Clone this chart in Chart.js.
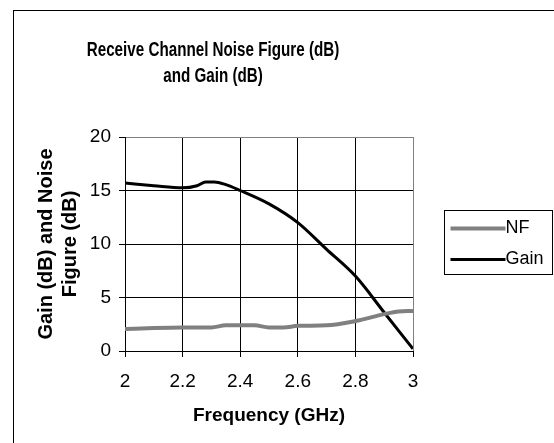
<!DOCTYPE html>
<html>
<head>
<meta charset="utf-8">
<script src="https://cdn.jsdelivr.net/npm/chart.js@4"></script>
<style>
  html, body { margin: 0; padding: 0; background: #fff; }
  #wrap { width: 554px; height: 443px; position: relative; }
</style>
</head>
<body>
<div id="wrap"><canvas id="graphNoiseGain"></canvas></div>
<script>
const canvasNoiseGain = document.getElementById('graphNoiseGain');

// values
const titleLines = ['Receive Channel Noise Figure (dB)', 'and Gain (dB)'];
const xTicks = [2, 2.2, 2.4, 2.6, 2.8, 3];
const yTicks = [0, 5, 10, 15, 20];

const nfFreq = [2.0, 2.1, 2.2, 2.3, 2.35, 2.45, 2.5, 2.55, 2.6, 2.7, 2.8, 2.9, 2.95, 3.0];
const nfValues = [2.05, 2.15, 2.2, 2.2, 2.4, 2.4, 2.2, 2.2, 2.35, 2.4, 2.8, 3.45, 3.7, 3.75];

const gainFreq = [2.0, 2.1, 2.2, 2.25, 2.28, 2.31, 2.35, 2.4, 2.5, 2.6, 2.7, 2.8, 2.9, 3.0];
const gainValues = [15.7, 15.45, 15.25, 15.45, 15.8, 15.8, 15.55, 15.0, 13.75, 12.0, 9.5, 7.0, 3.6, 0.2];

const fontFamily = '"Liberation Sans", Arial, sans-serif';

const toPoints = (xs, ys) => xs.map((x, i) => ({ x: x, y: ys[i] }));

// white page, outer frame and the two (narrow) title lines
const framePlugin = {
    id: 'frame',
    beforeDraw: function(chart) {
        const { ctx, width, height } = chart;
        ctx.save();
        ctx.fillStyle = '#fff';
        ctx.fillRect(0, 0, width, height);
        ctx.strokeStyle = '#000';
        ctx.lineWidth = 1;
        ctx.strokeRect(13.5, 10.5, width + 10, height + 10);
        ctx.fillStyle = '#000';
        ctx.font = 'bold 20px ' + fontFamily;
        ctx.textAlign = 'center';
        ctx.textBaseline = 'middle';
        ctx.translate(213, 0);
        ctx.scale(0.76, 1);
        ctx.fillText(titleLines[0], 0, 50);
        ctx.fillText(titleLines[1], 0, 76);
        ctx.restore();
    }
};

// boxed legend to the right of the plot
const boxLegendPlugin = {
    id: 'boxLegend',
    afterDraw: function(chart) {
        const ctx = chart.ctx;
        const box = { x: 444.5, y: 210.5, w: 108, h: 64 };
        ctx.save();
        ctx.strokeStyle = '#000';
        ctx.lineWidth = 1;
        ctx.strokeRect(box.x, box.y, box.w, box.h);
        ctx.font = '18px ' + fontFamily;
        ctx.textBaseline = 'middle';
        ctx.textAlign = 'left';
        chart.data.datasets.forEach((ds, i) => {
            const y = box.y + 18 + i * 31;
            ctx.strokeStyle = ds.borderColor;
            ctx.lineWidth = ds.borderWidth;
            ctx.beginPath();
            ctx.moveTo(box.x + 6, y);
            ctx.lineTo(box.x + 61, y);
            ctx.stroke();
            ctx.fillStyle = '#000';
            ctx.fillText(ds.label, box.x + 61, y);
        });
        ctx.restore();
    }
};

const edgeColor = (ctx, lastIndex) => ctx.index === lastIndex ? '#808080' : '#000';

const noiseGainGraph = new Chart(canvasNoiseGain, {
    type: 'line',
    data: {
        datasets: [
            {
                label: 'NF',
                data: toPoints(nfFreq, nfValues),
                borderColor: '#808080',
                borderWidth: 4,
                cubicInterpolationMode: 'monotone',
                pointRadius: 0
            },
            {
                label: 'Gain',
                data: toPoints(gainFreq, gainValues),
                borderColor: '#000',
                borderWidth: 3,
                cubicInterpolationMode: 'monotone',
                pointRadius: 0
            }
        ]
    },
    options: {
        responsive: true,
        maintainAspectRatio: false,
        animation: false,
        layout: {
            padding: { left: 0, top: 137, right: 141, bottom: 0 }
        },
        plugins: {
            legend: { display: false },
            tooltip: { enabled: false }
        },
        scales: {
            x: {
                type: 'linear',
                min: xTicks[0],
                max: xTicks[xTicks.length - 1],
                afterBuildTicks: (scale) => { scale.ticks = xTicks.map(v => ({ value: v })); },
                afterFit: (scale) => { scale.height = 92; },
                grid: {
                    color: (ctx) => edgeColor(ctx, xTicks.length - 1),
                    tickLength: 6,
                    tickColor: '#000'
                },
                border: { color: '#000' },
                ticks: {
                    color: '#000',
                    padding: 13,
                    maxRotation: 0,
                    font: { family: fontFamily, size: 19 },
                    callback: (v) => String(v)
                },
                title: {
                    display: true,
                    text: 'Frequency (GHz)',
                    color: '#000',
                    font: { family: fontFamily, size: 19, weight: 'bold' },
                    padding: { top: 0, bottom: 16 }
                }
            },
            y: {
                min: yTicks[0],
                max: yTicks[yTicks.length - 1],
                afterBuildTicks: (scale) => { scale.ticks = yTicks.map(v => ({ value: v })); },
                afterFit: (scale) => { scale.width = 125; },
                grid: {
                    color: (ctx) => edgeColor(ctx, yTicks.length - 1),
                    tickLength: 6,
                    tickColor: '#000'
                },
                border: { color: '#000' },
                ticks: {
                    color: '#000',
                    padding: 8,
                    font: { family: fontFamily, size: 19 }
                },
                title: {
                    display: true,
                    text: ['Gain (dB) and Noise', 'Figure (dB)'],
                    color: '#000',
                    font: { family: fontFamily, size: 20, weight: 'bold', lineHeight: 1.2 },
                    padding: { top: 34, bottom: 0 }
                }
            }
        }
    },
    plugins: [framePlugin, boxLegendPlugin]
});
</script>
</body>
</html>
